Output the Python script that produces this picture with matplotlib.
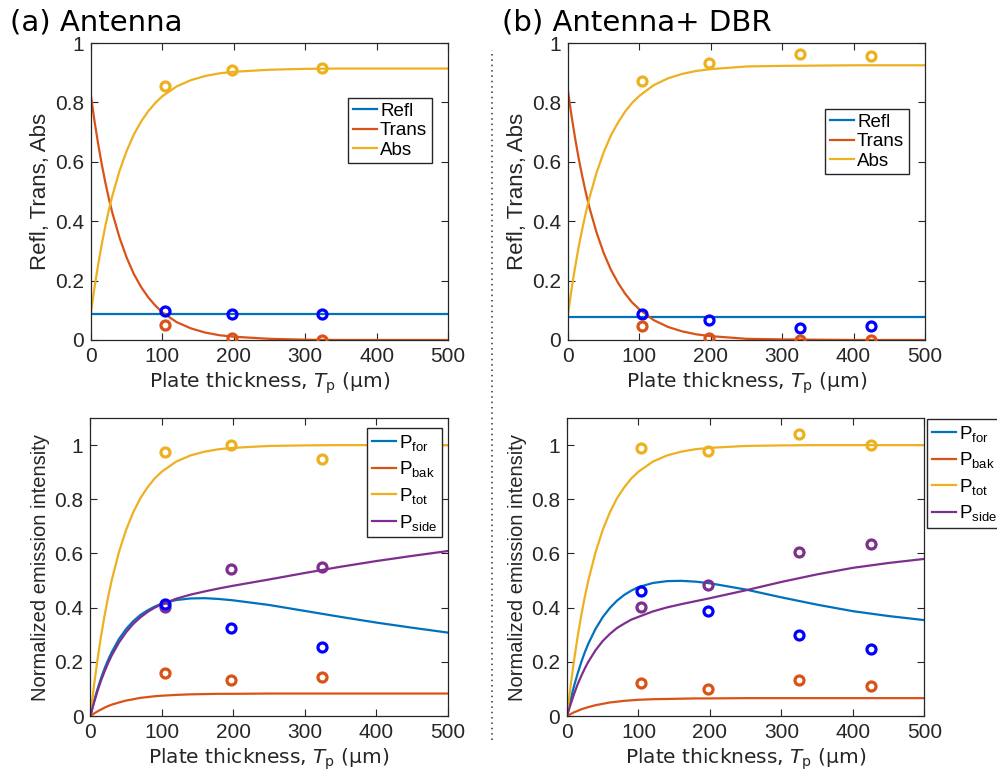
import matplotlib
matplotlib.use("Agg")
import matplotlib.pyplot as plt
from matplotlib.lines import Line2D

plt.rcParams["font.family"] = ["Liberation Sans", "DejaVu Sans"]
plt.rcParams["mathtext.fontset"] = "custom"
plt.rcParams["mathtext.rm"] = "Liberation Sans"
plt.rcParams["mathtext.it"] = "Liberation Sans:italic"
plt.rcParams["mathtext.default"] = "rm"

# MATLAB default colours
C_BLUE = "#0072BD"
C_ORANGE = "#D95319"
C_YELLOW = "#EDB120"
C_PURPLE = "#7E2F8E"
C_MARK_BLUE = "#0000FF"
AX_COL = "#262626"

# ---- model curves ----
x_curve = [0, 5, 10, 15, 20, 25, 30, 40, 50, 60, 70, 80, 90, 100,
           120, 140, 160, 180, 200, 250, 300, 350, 400, 450, 500]

# (a) Antenna
refl_a = [0.086] * len(x_curve)
trans_a = [0.820, 0.735, 0.660, 0.592, 0.531, 0.476, 0.427, 0.344, 0.277, 0.222,
           0.179, 0.144, 0.116, 0.093, 0.060, 0.039, 0.025, 0.016, 0.011, 0.004,
           0.001, 0.000, 0.000, 0.000, 0.000]
abs_a = [0.094, 0.179, 0.254, 0.322, 0.383, 0.438, 0.487, 0.570, 0.637, 0.692,
         0.735, 0.770, 0.798, 0.821, 0.854, 0.875, 0.889, 0.898, 0.903, 0.910,
         0.913, 0.914, 0.914, 0.914, 0.914]
ptot_a = [0.000, 0.110, 0.208, 0.295, 0.372, 0.441, 0.502, 0.605, 0.687, 0.752,
          0.804, 0.844, 0.877, 0.902, 0.939, 0.962, 0.976, 0.985, 0.990, 0.997,
          0.999, 1.000, 1.000, 1.000, 1.000]
pbak_a = [0.000, 0.009, 0.017, 0.024, 0.031, 0.037, 0.042, 0.050, 0.057, 0.062,
          0.067, 0.070, 0.073, 0.075, 0.078, 0.080, 0.081, 0.082, 0.082, 0.083,
          0.083, 0.083, 0.083, 0.083, 0.083]
pfor_a = [0.000, 0.053, 0.099, 0.140, 0.176, 0.208, 0.236, 0.284, 0.321, 0.350,
          0.373, 0.390, 0.404, 0.415, 0.428, 0.434, 0.435, 0.432, 0.427, 0.410,
          0.388, 0.366, 0.345, 0.326, 0.308]
pside_a = [0.000, 0.048, 0.092, 0.131, 0.165, 0.196, 0.224, 0.271, 0.309, 0.340,
           0.364, 0.384, 0.400, 0.412, 0.433, 0.448, 0.460, 0.471, 0.481, 0.504,
           0.528, 0.551, 0.572, 0.591, 0.609]

# (b) Antenna + DBR
refl_b = [0.078] * len(x_curve)
trans_b = [0.838, 0.754, 0.679, 0.611, 0.551, 0.496, 0.446, 0.362, 0.293, 0.237,
           0.193, 0.156, 0.126, 0.103, 0.067, 0.044, 0.029, 0.019, 0.013, 0.004,
           0.002, 0.001, 0.000, 0.000, 0.000]
abs_b = [0.087, 0.171, 0.246, 0.314, 0.374, 0.429, 0.479, 0.563, 0.632, 0.688,
         0.732, 0.769, 0.799, 0.822, 0.858, 0.881, 0.896, 0.906, 0.912, 0.921,
         0.923, 0.924, 0.925, 0.925, 0.925]
ptot_b = ptot_a
pbak_b = [0.000, 0.007, 0.014, 0.019, 0.025, 0.029, 0.033, 0.040, 0.045, 0.050,
          0.053, 0.056, 0.058, 0.060, 0.062, 0.063, 0.064, 0.065, 0.065, 0.066,
          0.066, 0.066, 0.066, 0.066, 0.066]
pfor_b = [0.000, 0.060, 0.112, 0.158, 0.199, 0.236, 0.268, 0.322, 0.365, 0.399,
          0.426, 0.447, 0.463, 0.476, 0.491, 0.498, 0.499, 0.496, 0.490, 0.467,
          0.438, 0.411, 0.387, 0.369, 0.354]
pside_b = [0.000, 0.043, 0.082, 0.118, 0.148, 0.176, 0.201, 0.243, 0.277, 0.303,
           0.325, 0.341, 0.356, 0.366, 0.386, 0.401, 0.413, 0.424, 0.435, 0.464,
           0.495, 0.523, 0.547, 0.565, 0.580]

# ---- measured points ----
x_meas_a = [104, 197, 324]
refl_meas_a = [0.096, 0.086, 0.086]
trans_meas_a = [0.049, 0.006, 0.001]
abs_meas_a = [0.855, 0.909, 0.915]
ptot_meas_a = [0.974, 1.001, 0.949]
pside_meas_a = [0.404, 0.544, 0.551]
pfor_meas_a = [0.415, 0.325, 0.254]
pbak_meas_a = [0.157, 0.133, 0.144]

x_meas_b = [104, 197, 325, 425]
refl_meas_b = [0.088, 0.067, 0.040, 0.047]
trans_meas_b = [0.046, 0.006, 0.001, 0.001]
abs_meas_b = [0.873, 0.934, 0.963, 0.956]
ptot_meas_b = [0.991, 0.978, 1.040, 1.000]
pside_meas_b = [0.402, 0.485, 0.606, 0.635]
pfor_meas_b = [0.461, 0.389, 0.298, 0.248]
pbak_meas_b = [0.121, 0.100, 0.132, 0.111]

xlabel = r"Plate thickness, $\mathit{T}_{\rm p}$ (µm)"
labels_top = ["Refl", "Trans", "Abs"]
labels_bot = [r"P$_{\rm for}$", r"P$_{\rm bak}$", r"P$_{\rm tot}$", r"P$_{\rm side}$"]

FS_TICK = 15
FS_LAB = 14.5
FS_LEG = 13.5
LW = 1.6
MS = 6.5
MEW = 2.3


def style_axes(ax, ymax, yticks):
    ax.set_xlim(0, 500)
    ax.set_ylim(0, ymax)
    ax.set_xticks([0, 100, 200, 300, 400, 500])
    ax.set_yticks(yticks)
    ax.set_yticklabels([f"{t:g}" for t in yticks])
    ax.tick_params(direction="in", top=True, right=True, length=5, width=0.8,
                   labelsize=FS_TICK, colors=AX_COL, pad=5)
    for sp in ax.spines.values():
        sp.set_color(AX_COL)
        sp.set_linewidth(0.9)
    ax.set_xlabel(xlabel, fontsize=FS_LAB, color=AX_COL, labelpad=3,
                  family="DejaVu Sans", math_fontfamily="dejavusans")


def points(ax, x, y, color):
    ax.plot(x, y, "o", mfc="none", mec=color, ms=MS, mew=MEW, zorder=5)


def legend(ax, anchor, loc, spacing):
    leg = ax.legend(loc=loc, bbox_to_anchor=anchor, borderaxespad=0, fontsize=FS_LEG,
                    frameon=True, fancybox=False, edgecolor=AX_COL, framealpha=1,
                    handlelength=1.3, handletextpad=0.15, labelspacing=spacing,
                    borderpad=0.25)
    leg.get_frame().set_linewidth(1.0)
    return leg


fig = plt.figure(figsize=(9.97, 7.75), dpi=100)
ax_tl = fig.add_axes([0.0913, 0.5613, 0.358, 0.3832])
ax_tr = fig.add_axes([0.5697, 0.5613, 0.358, 0.3832])
ax_bl = fig.add_axes([0.0906, 0.0761, 0.3585, 0.3845])
ax_br = fig.add_axes([0.5687, 0.0761, 0.3585, 0.3845])

yt_top = [0, 0.2, 0.4, 0.6, 0.8, 1]

# top row
for ax, refl, trans, ab, xm, rm, tm, am, anchor in [
    (ax_tl, refl_a, trans_a, abs_a, x_meas_a, refl_meas_a, trans_meas_a, abs_meas_a, (0.955, 0.815)),
    (ax_tr, refl_b, trans_b, abs_b, x_meas_b, refl_meas_b, trans_meas_b, abs_meas_b, (0.955, 0.778)),
]:
    ax.plot(x_curve, refl, color=C_BLUE, lw=LW, label=labels_top[0])
    ax.plot(x_curve, trans, color=C_ORANGE, lw=LW, label=labels_top[1])
    ax.plot(x_curve, ab, color=C_YELLOW, lw=LW, label=labels_top[2])
    points(ax, xm, rm, C_MARK_BLUE)
    points(ax, xm, tm, C_ORANGE)
    points(ax, xm, am, C_YELLOW)
    style_axes(ax, 1, yt_top)
    ax.set_ylabel("Refl, Trans, Abs", fontsize=16, color=AX_COL, labelpad=3)
    legend(ax, anchor, "upper right", 0.12)

# bottom row
for ax, pf, pb, pt, ps, xm, pfm, pbm, ptm, psm, anchor, loc in [
    (ax_bl, pfor_a, pbak_a, ptot_a, pside_a, x_meas_a, pfor_meas_a, pbak_meas_a,
     ptot_meas_a, pside_meas_a, (0.984, 0.966), "upper right"),
    (ax_br, pfor_b, pbak_b, ptot_b, pside_b, x_meas_b, pfor_meas_b, pbak_meas_b,
     ptot_meas_b, pside_meas_b, (1.008, 0.997), "upper left"),
]:
    ax.plot(x_curve, pf, color=C_BLUE, lw=LW, label=labels_bot[0])
    ax.plot(x_curve, pb, color=C_ORANGE, lw=LW, label=labels_bot[1])
    ax.plot(x_curve, pt, color=C_YELLOW, lw=LW, label=labels_bot[2])
    ax.plot(x_curve, ps, color=C_PURPLE, lw=LW, label=labels_bot[3])
    points(ax, xm, ptm, C_YELLOW)
    points(ax, xm, psm, C_PURPLE)
    points(ax, xm, pfm, C_MARK_BLUE)
    points(ax, xm, pbm, C_ORANGE)
    style_axes(ax, 1.1, yt_top)
    ax.set_ylabel("Normalized emission intensity", fontsize=14.5, color=AX_COL, labelpad=3)
    legend(ax, anchor, loc, 0.35)

# panel titles
fig.text(0.010, 0.960, "(a) Antenna", fontsize=21, va="baseline", ha="left",
         family="DejaVu Sans")
fig.text(0.504, 0.960, "(b) Antenna+ DBR", fontsize=21, va="baseline", ha="left",
         family="DejaVu Sans")

# dotted separator
fig.add_artist(Line2D([0.4932, 0.4932], [0.045, 0.935], transform=fig.transFigure,
                      color="#333333", lw=1.1, linestyle=(0, (1, 2.5))))

fig.savefig("out.png", dpi=100)
